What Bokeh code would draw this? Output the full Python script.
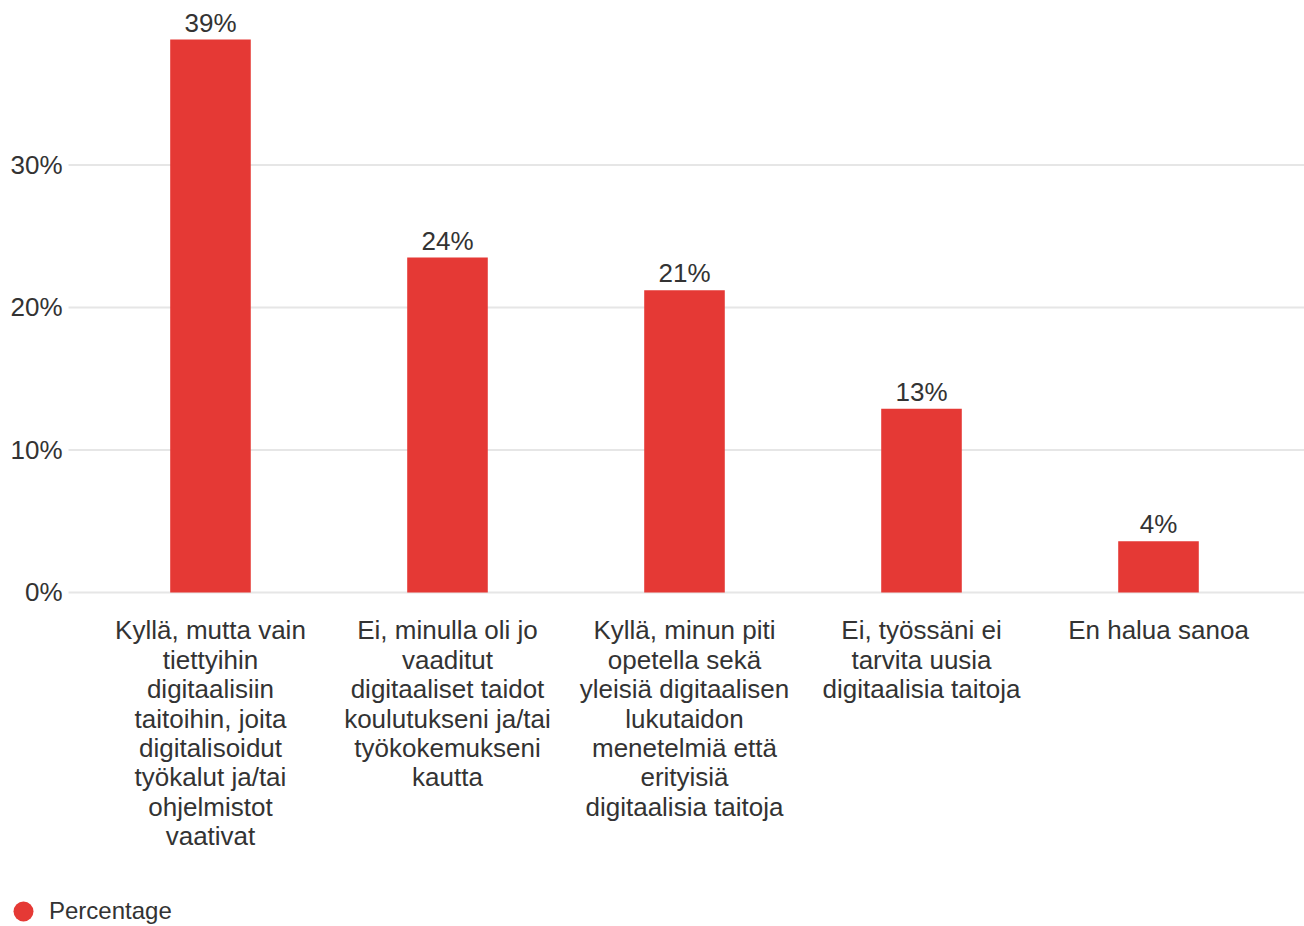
from bokeh.plotting import figure
from bokeh.models import Range1d, ColumnDataSource, Legend, LegendItem
from bokeh.core.properties import value
from bokeh.embed import file_html
from bokeh.resources import INLINE

categories = [
    "Kyllä, mutta vain\ntiettyihin\ndigitaalisiin\ntaitoihin, joita\ndigitalisoidut\ntyökalut ja/tai\nohjelmistot\nvaativat",
    "Ei, minulla oli jo\nvaaditut\ndigitaaliset taidot\nkoulutukseni ja/tai\ntyökokemukseni\nkautta",
    "Kyllä, minun piti\nopetella sekä\nyleisiä digitaalisen\nlukutaidon\nmenetelmiä että\nerityisiä\ndigitaalisia taitoja",
    "Ei, työssäni ei\ntarvita uusia\ndigitaalisia taitoja",
    "En halua sanoa",
]
percentages = [38.8, 23.5, 21.2, 12.9, 3.6]
value_labels = ["39%", "24%", "21%", "13%", "4%"]
y_ticks = [0, 10, 20, 30]
y_tick_labels = ["0%", "10%", "20%", "30%"]
series_name = "Percentage"

FONT = "Liberation Sans"
TXT = "#333333"
RED = "#e53935"
GRID = "#e6e6e6"

n = len(categories)
xs = list(range(n))

# plot region (in data units): categories at 0..n-1, plot area spans X_LO..X_HI
X_LO, X_HI = -0.599, n - 1 + 0.616
p = figure(
    width=1304, height=926,
    x_range=Range1d(-0.886, X_HI),
    y_range=Range1d(-23.44, 41.54),
    x_axis_type=None, y_axis_type=None,
    output_backend="svg", toolbar_location=None,
    min_border=0,
    background_fill_color="white", border_fill_color="white",
)
p.outline_line_color = None
p.grid.visible = False

# gridlines
p.segment(x0=[X_LO] * len(y_ticks), x1=[X_HI] * len(y_ticks), y0=y_ticks, y1=y_ticks,
          line_color=GRID, line_width=2)

# y tick labels
p.text(x=[X_LO] * len(y_ticks), y=y_ticks, text=y_tick_labels, x_offset=-6,
       text_align="right", text_baseline="middle",
       text_font=value(FONT), text_font_size="26px", text_color=TXT)

src = ColumnDataSource(dict(x=xs, top=percentages, lab=value_labels, cat=categories,
                            zero=[0] * n))

bars = p.vbar(x="x", top="top", width=0.34, source=src, color=RED, line_color=None)
p.text(x="x", y="top", text="lab", source=src, text_align="center", text_baseline="bottom",
       y_offset=-2, text_font=value(FONT), text_font_size="26px", text_color=TXT)

# category labels
p.text(x="x", y="zero", text="cat", source=src, text_align="center", text_baseline="top",
       y_offset=23, text_font=value(FONT), text_font_size="26px", text_color=TXT,
       text_line_height=0.98)

# legend (marker renderer with no visible point, used only for the legend swatch)
nan = float("nan")
dummy = p.scatter(x=[nan], y=[nan], marker="circle", size=20, color=RED, line_color=None)
legend = Legend(items=[LegendItem(label=series_name, renderers=[dummy], index=0)],
                location=(-2, -10), orientation="horizontal",
                border_line_color=None, background_fill_alpha=0,
                label_text_font=FONT, label_text_font_size="24px", label_text_color=TXT,
                glyph_width=50, glyph_height=50, label_standoff=1,
                padding=0, margin=0)
p.add_layout(legend, "center")

open("out.html", "w").write(file_html(p, INLINE))
